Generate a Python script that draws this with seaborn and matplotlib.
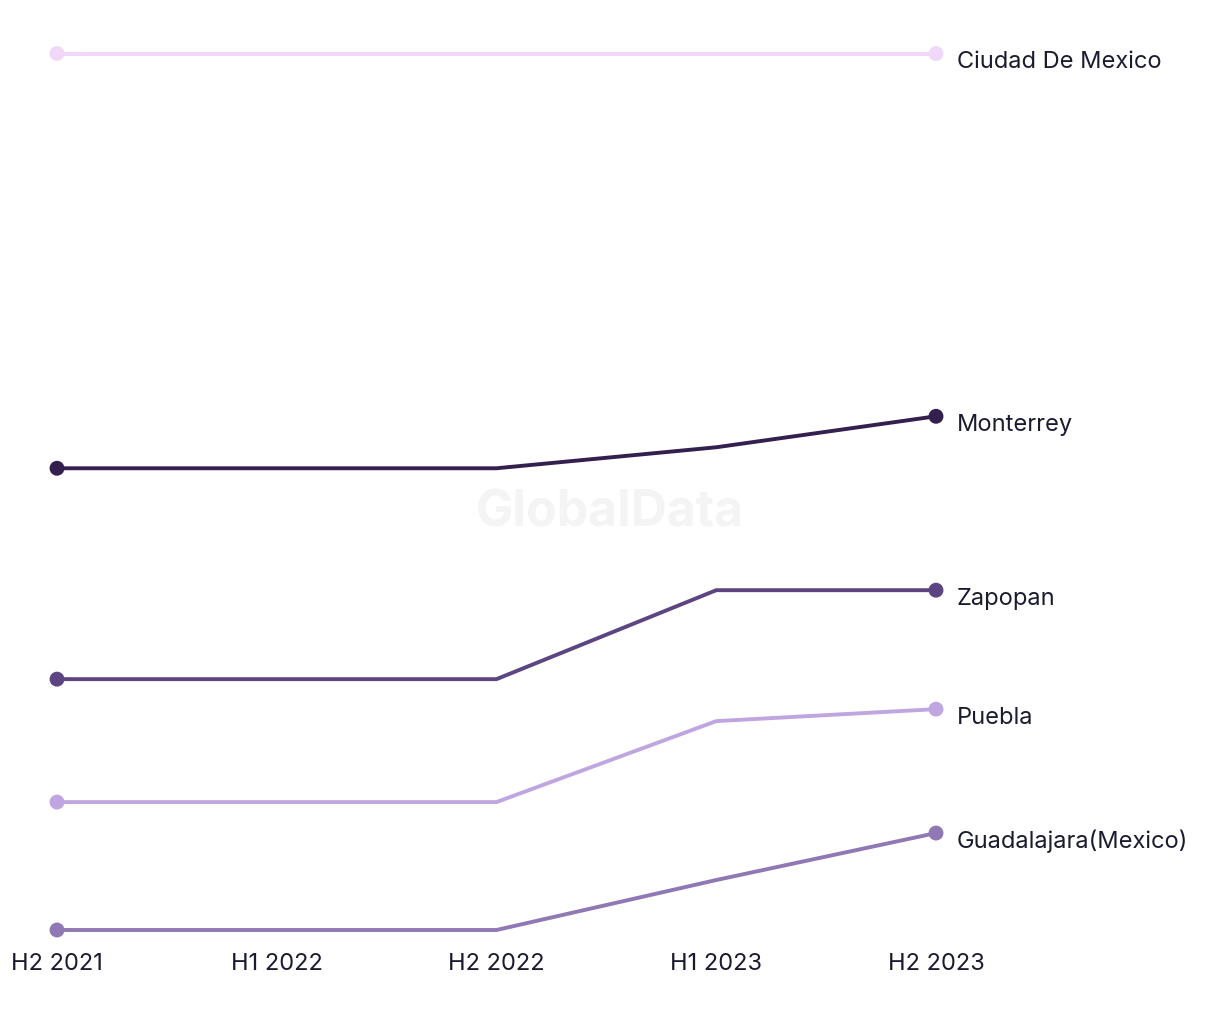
import matplotlib
matplotlib.use("Agg")
import matplotlib.pyplot as plt
import seaborn as sns
import pandas as pd

periods = ["H2 2021", "H1 2022", "H2 2022", "H1 2023", "H2 2023"]
cities = ["Ciudad De Mexico", "Monterrey", "Zapopan", "Puebla", "Guadalajara(Mexico)"]
ciudad = [877, 877, 877, 877, 877]
monterrey = [462, 462, 462, 483, 514]
zapopan = [251, 251, 251, 340, 340]
puebla = [128, 128, 128, 209, 221]
guadalajara = [0, 0, 0, 50, 97]
colors = ["#F0D8F8", "#33204F", "#5C4580", "#C0A6E0", "#8F78B3"]

series = [ciudad, monterrey, zapopan, puebla, guadalajara]
rows = []
for c, vals in zip(cities, series):
    for i, (p, v) in enumerate(zip(periods, vals)):
        rows.append({"city": c, "idx": i, "period": p, "value": v})
df = pd.DataFrame(rows)

sns.set_theme(style="white")
plt.rcParams['font.family'] = ['Inter', 'DejaVu Sans']

fig = plt.figure(figsize=(12.2, 10.2), dpi=100)
ax = fig.add_axes([57 / 1220, 89 / 1020, (936 - 57) / 1220, 876.5 / 1020])

palette = dict(zip(cities, colors))
sns.lineplot(data=df, x="idx", y="value", hue="city", palette=palette,
             linewidth=2.8, legend=False, ax=ax, clip_on=False)
ends = df[df["idx"].isin([0, len(periods) - 1])]
sns.scatterplot(data=ends, x="idx", y="value", hue="city", palette=palette,
                s=115, edgecolor="none", legend=False, ax=ax, clip_on=False, zorder=5)

ax.set_xlim(0, len(periods) - 1)
ax.set_ylim(0, 877)
for c, vals, col in zip(cities, series, colors):
    ax.annotate(c, xy=(len(periods) - 1, vals[-1]), xytext=(15, -5.5),
                textcoords="offset points", ha="left", va="center",
                fontsize=17, color="#1B1B2F", annotation_clip=False)

ax.set_xticks(range(len(periods)))
ax.set_xticklabels(periods, fontsize=17, color="#1B1B2F")
ax.tick_params(axis="x", length=0, pad=16)
ax.set_yticks([])
ax.set_xlabel("")
ax.set_ylabel("")
for s in ax.spines.values():
    s.set_visible(False)

fig.text(610 / 1220, 1 - 513 / 1020, "GlobalData", ha="center", va="center",
         fontsize=36, fontweight="bold", color="#F4F4F4", zorder=0)

fig.savefig("out.png", dpi=100, facecolor="white")
